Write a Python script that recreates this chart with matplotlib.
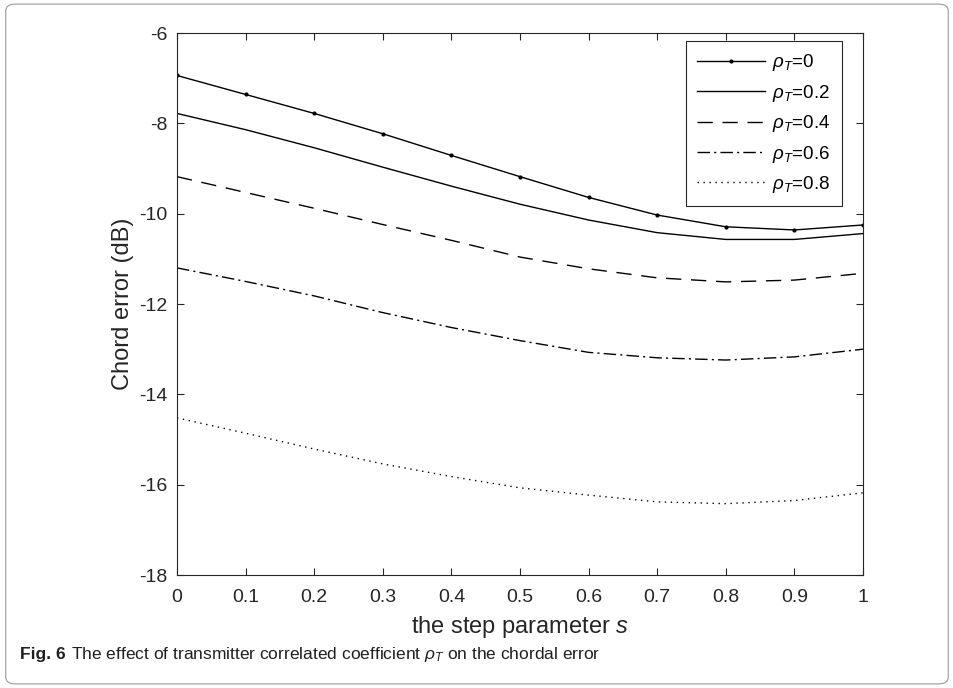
import matplotlib
matplotlib.use('Agg')
import matplotlib.pyplot as plt
from matplotlib.patches import FancyBboxPatch
import numpy as np

# data
s = [0, 0.1, 0.2, 0.3, 0.4, 0.5, 0.6, 0.7, 0.8, 0.9, 1.0]
rho0 = [-6.94, -7.36, -7.78, -8.23, -8.71, -9.18, -9.64, -10.03, -10.29, -10.36, -10.25]
rho2 = [-7.78, -8.14, -8.54, -8.97, -9.39, -9.79, -10.14, -10.42, -10.57, -10.57, -10.44]
rho4 = [-9.18, -9.53, -9.88, -10.24, -10.59, -10.96, -11.22, -11.42, -11.51, -11.47, -11.32]
rho6 = [-11.20, -11.50, -11.82, -12.19, -12.52, -12.81, -13.07, -13.19, -13.24, -13.17, -13.00]
rho8 = [-14.52, -14.86, -15.21, -15.54, -15.82, -16.07, -16.23, -16.38, -16.42, -16.35, -16.18]
labels = [r'$\rho_T$=0', r'$\rho_T$=0.2', r'$\rho_T$=0.4', r'$\rho_T$=0.6', r'$\rho_T$=0.8']

fam = 'Liberation Sans'
plt.rcParams['font.family'] = [fam, 'DejaVu Sans']
plt.rcParams['mathtext.fontset'] = 'custom'
plt.rcParams['mathtext.it'] = fam + ':italic'
plt.rcParams['mathtext.rm'] = fam

axc = '#262626'
fig = plt.figure(figsize=(9.54, 6.88), dpi=100)
ax = fig.add_axes([0.1855, 0.1642, 0.7191, 0.7878])

ax.plot(s, rho0, '-', color='k', lw=1.0, marker='.', markersize=4, label=labels[0])
ax.plot(s, rho2, '-', color='k', lw=1.0, label=labels[1])
ax.plot(s, rho4, color='k', lw=1.0, dashes=(11, 7), label=labels[2])
ax.plot(s, rho6, color='k', lw=1.0, dashes=(9, 3, 1.5, 3), label=labels[3])
ax.plot(s, rho8, color='k', lw=1.0, dashes=(1, 3.3), label=labels[4])

ax.set_xlim(0, 1)
ax.set_ylim(-18, -6)
ax.set_xticks(np.arange(0, 1.01, 0.1))
ax.set_xticklabels(['0', '0.1', '0.2', '0.3', '0.4', '0.5', '0.6', '0.7', '0.8', '0.9', '1'])
ax.set_yticks(np.arange(-18, -5, 2))
ax.set_yticklabels([str(v) for v in range(-18, -5, 2)])
ax.tick_params(direction='in', top=True, right=True, length=5, width=0.8,
               colors=axc, labelsize=14)
ax.tick_params(axis='x', pad=10)
ax.tick_params(axis='y', pad=7)
for sp in ax.spines.values():
    sp.set_color(axc)
    sp.set_linewidth(0.8)

ax.set_xlabel('the step parameter $s$', fontsize=17, color=axc)
ax.set_ylabel('Chord error (dB)', fontsize=17, color=axc)
ax.xaxis.set_label_coords(0.5, -0.072)
ax.yaxis.set_label_coords(-0.062, 0.5)

leg = ax.legend(loc='upper right', bbox_to_anchor=(0.969, 0.985), borderaxespad=0,
                fontsize=13.5, handlelength=3.6, handletextpad=0.4, labelspacing=0.5,
                borderpad=0.6, fancybox=False, framealpha=1)
leg.get_frame().set_edgecolor(axc)
leg.get_frame().set_linewidth(0.8)

# caption and frame of the journal figure
fig.patches.append(FancyBboxPatch((0.006, 0.006), 0.988, 0.988, boxstyle='round,pad=0,rounding_size=0.01',
                                  transform=fig.transFigure, fill=False, edgecolor='#9a9a9a', lw=0.8))
t1 = fig.text(0.021, 0.048, 'Fig. 6', fontsize=12.5, fontweight='bold', va='center', color='#231f20')
fig.canvas.draw()
bb = t1.get_window_extent().transformed(fig.transFigure.inverted())
fig.text(bb.x1 + 0.006, 0.048, r'The effect of transmitter correlated coefficient $\rho_T$ on the chordal error',
         fontsize=12.5, va='center', color='#231f20')

fig.savefig('out.png', dpi=100)
